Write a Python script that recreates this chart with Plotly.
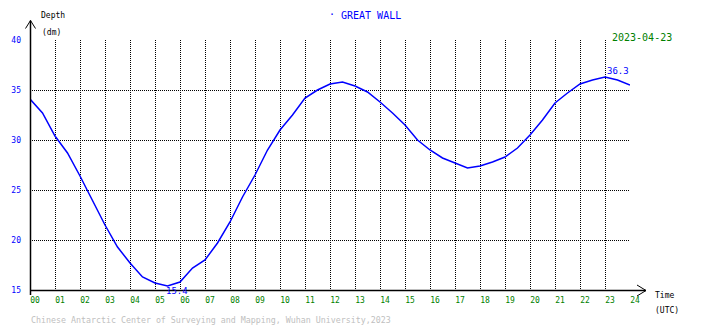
import plotly.graph_objects as go

# ---- data ----
hours = [0, 0.5, 1, 1.5, 2, 2.5, 3, 3.5, 4, 4.5, 5, 5.5, 6, 6.5, 7, 7.5, 8, 8.5,
         9, 9.5, 10, 10.5, 11, 11.5, 12, 12.5, 13, 13.5, 14, 14.5, 15, 15.5, 16,
         16.5, 17, 17.5, 18, 18.5, 19, 19.5, 20, 20.5, 21, 21.5, 22, 22.5, 23,
         23.5, 24]
depth_dm = [34.1, 32.7, 30.4, 28.7, 26.4, 24.0, 21.5, 19.3, 17.7, 16.3, 15.7,
            15.4, 15.8, 17.2, 18.0, 19.7, 21.8, 24.3, 26.5, 29.0, 31.0, 32.5,
            34.2, 35.0, 35.6, 35.8, 35.4, 34.8, 33.8, 32.7, 31.5, 30.0, 29.0,
            28.2, 27.7, 27.2, 27.4, 27.8, 28.3, 29.2, 30.5, 32.0, 33.7, 34.7,
            35.6, 36.0, 36.3, 36.0, 35.5]
x_ticks = list(range(0, 25))
x_tick_labels = [f"{h:02d}" for h in x_ticks]
y_ticks = [15, 20, 25, 30, 35, 40]
y_tick_labels = [str(v) for v in y_ticks]
station = "GREAT WALL"
date_str = "2023-04-23"
credit = "Chinese Antarctic Center of Surveying and Mapping, Wuhan University,2023"

W, H = 710, 328
L, R, T, B = 30, 80, 40, 38
PW, PH = W - L - R, H - T - B

def px(x):
    return (x - L) / PW

def py(y):
    return (H - B - y) / PH

MONO = "DejaVu Sans Mono"
BLUE = "#0000ff"
GREEN = "#008000"

fig = go.Figure()
fig.add_trace(go.Scatter(x=hours, y=depth_dm, mode="lines",
                         line=dict(color=BLUE, width=1.5), hoverinfo="skip"))

imax = max(range(len(depth_dm)), key=lambda i: depth_dm[i])
imin = min(range(len(depth_dm)), key=lambda i: depth_dm[i])

fig.update_layout(
    width=W, height=H,
    margin=dict(l=L, r=R, t=T, b=B, autoexpand=False),
    paper_bgcolor="white", plot_bgcolor="white",
    showlegend=False,
    xaxis=dict(range=[0, 24], tickvals=x_ticks, ticktext=x_tick_labels,
               showgrid=True, gridcolor="black", griddash="1px,1px", gridwidth=1,
               zeroline=False, showline=False, ticks="",
               tickfont=dict(family=MONO, size=8, color=GREEN),
               ticklabelshift=5, ticklabelstandoff=4),
    yaxis=dict(range=[15, 40], tickvals=y_ticks, ticktext=y_tick_labels,
               showgrid=True, gridcolor="black", griddash="1px,1px", gridwidth=1,
               zeroline=False, showline=False, ticks="",
               tickfont=dict(family=MONO, size=8, color=BLUE),
               ticklabelstandoff=8),
)

shapes = []
line = dict(color="black", width=1.5)
# y axis with arrow
shapes.append(dict(type="line", xref="paper", yref="paper",
                   x0=px(30.5), x1=px(30.5), y0=py(295), y1=py(20.5), line=line))
shapes.append(dict(type="path", xref="paper", yref="paper",
                   path=f"M {px(25.5)},{py(28.5)} L {px(30.5)},{py(20.5)} L {px(35.5)},{py(28.5)}",
                   line=dict(color="black", width=1)))
# x axis with arrow
shapes.append(dict(type="line", xref="paper", yref="paper",
                   x0=px(30), x1=px(646), y0=py(290.5), y1=py(290.5), line=line))
shapes.append(dict(type="path", xref="paper", yref="paper",
                   path=f"M {px(637)},{py(285)} L {px(646)},{py(290.5)} L {px(637)},{py(296)}",
                   line=dict(color="black", width=1)))
fig.update_layout(shapes=shapes)

def ann(text, x, y, size, color, xanchor="left", yanchor="middle"):
    fig.add_annotation(text=text, xref="paper", yref="paper", x=px(x), y=py(y),
                       xanchor=xanchor, yanchor=yanchor, showarrow=False,
                       font=dict(family=MONO, size=size, color=color))

ann("·", 327, 15, 10, BLUE)
ann(station, 339, 16, 10, BLUE)
ann(date_str, 610, 37, 10, GREEN)
ann("Depth", 39, 16, 8, "black")
ann("(dm)", 40, 33, 8, "black")
ann("Time", 653, 295, 8, "black")
ann("(UTC)", 653, 310, 8, "black")
ann(credit, 29, 320, 8.3, "#c0c0c0")

fig.add_annotation(text=f"{depth_dm[imax]:.1f}", x=hours[imax], y=depth_dm[imax],
                   xanchor="left", yanchor="bottom", showarrow=False, yshift=-1,
                   font=dict(family=MONO, size=9, color=BLUE))
fig.add_annotation(text=f"{depth_dm[imin]:.1f}", x=hours[imin], y=depth_dm[imin],
                   xanchor="left", yanchor="middle", showarrow=False, xshift=-4, yshift=-5,
                   font=dict(family=MONO, size=9, color=BLUE))

fig.write_html("out.html", config={"displayModeBar": False},
               post_script="document.body.style.margin='0';document.body.style.overflow='hidden';")
